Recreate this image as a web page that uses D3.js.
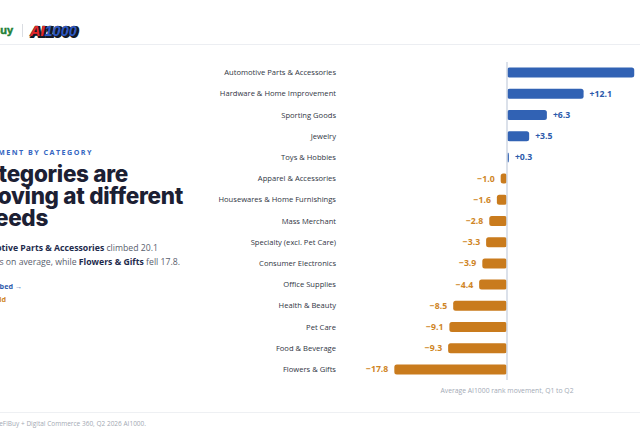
<!DOCTYPE html>
<html>
<head>
<meta charset="utf-8">
<script src="https://cdn.jsdelivr.net/npm/d3@7"></script>
<style>
  html, body { margin: 0; padding: 0; background: #fff; overflow: hidden; }
  svg { display: block; }
</style>
</head>
<body>
<div id="chart"></div>
<script>
// categories and average rank movement, Q1 to Q2
const categories = [
  "Automotive Parts & Accessories",
  "Hardware & Home Improvement",
  "Sporting Goods",
  "Jewelry",
  "Toys & Hobbies",
  "Apparel & Accessories",
  "Housewares & Home Furnishings",
  "Mass Merchant",
  "Specialty (excl. Pet Care)",
  "Consumer Electronics",
  "Office Supplies",
  "Health & Beauty",
  "Pet Care",
  "Food & Beverage",
  "Flowers & Gifts"
];
const movement = [20.1, 12.1, 6.3, 3.5, 0.3, -1.0, -1.6, -2.8, -3.3, -3.9, -4.4, -8.5, -9.1, -9.3, -17.8];

const titleLines = ["Categories are", "moving at different", "speeds"];
const axisCaption = "Average AI1000 rank movement, Q1 to Q2";
const sourceNote = "Source: ReFiBuy + Digital Commerce 360, Q2 2026 AI1000.";

const width = 640, height = 440;
const blue = "#3162b4", orange = "#c97b1d";
const blueText = "#2c5aab", orangeText = "#cf8526";
const font = "'Open Sans', sans-serif";

d3.select("#chart").html("");
let svg = d3.select("#chart")
  .append("svg")
  .attr("width", width)
  .attr("height", height);

/** HEADER */
svg.append("text")
  .attr("x", 13).attr("y", 33.5)
  .attr("text-anchor", "end")
  .attr("font-family", "'Liberation Sans', sans-serif")
  .attr("font-weight", 700)
  .attr("font-size", 11)
  .style("fill", "#1e7f36")
  .style("stroke", "#1e7f36").style("stroke-width", 0.5)
  .text("ReFiBuy");
svg.append("line")
  .attr("x1", 22.5).attr("x2", 22.5)
  .attr("y1", 24).attr("y2", 37)
  .style("stroke", "#dadde2");
let logo = svg.append("g").attr("transform", "translate(30,35.5)");
logo.append("text")
  .attr("x", 1.5).attr("y", 1.5)
  .attr("font-family", "'Liberation Sans', sans-serif")
  .attr("font-weight", 700).attr("font-style", "italic")
  .attr("font-size", 14.5)
  .style("fill", "#151825")
  .style("stroke", "#151825").style("stroke-width", 2)
  .text("AI1000");
let logoText = logo.append("text")
  .attr("font-family", "'Liberation Sans', sans-serif")
  .attr("font-weight", 700).attr("font-style", "italic")
  .attr("font-size", 14.5)
  .style("stroke", "#151825").style("stroke-width", 0.7)
  .style("paint-order", "stroke");
logoText.append("tspan").style("fill", "#e5262a").text("AI");
logoText.append("tspan").style("fill", "#2a58c4").text("1000");

svg.append("line")
  .attr("x1", 0).attr("x2", width)
  .attr("y1", 44.5).attr("y2", 44.5)
  .style("stroke", "#eceef2");

/** LEFT PANEL */
svg.append("text")
  .attr("x", 93).attr("y", 155)
  .attr("text-anchor", "end")
  .attr("font-family", font)
  .attr("font-weight", 700)
  .attr("font-size", 7.2)
  .attr("letter-spacing", 1.45)
  .style("fill", "#3566c2")
  .text("RANK MOVEMENT BY CATEGORY");

let titleEnds = [128, 183, 48];
svg.append("g")
  .selectAll("text")
  .data(titleLines).enter()
  .append("text")
  .attr("x", (d, i) => titleEnds[i])
  .attr("y", (d, i) => 182 + i * 22)
  .attr("text-anchor", "end")
  .attr("font-family", "Inter, sans-serif")
  .attr("font-weight", 800)
  .attr("font-size", 22.5)
  .attr("letter-spacing", -0.3)
  .style("fill", "#1c2033")
  .text((d) => d);

let sub1 = svg.append("text")
  .attr("x", 158).attr("y", 251)
  .attr("text-anchor", "end")
  .attr("font-family", font)
  .attr("font-size", 8.7)
  .style("fill", "#59606d");
sub1.append("tspan").attr("font-weight", 700).style("fill", "#1e2b4d").text("Automotive Parts & Accessories");
sub1.append("tspan").text(" climbed 20.1");
let sub2 = svg.append("text")
  .attr("x", 180).attr("y", 265)
  .attr("text-anchor", "end")
  .attr("font-family", font)
  .attr("font-size", 8.7)
  .style("fill", "#59606d");
sub2.append("tspan").text("positions on average, while ");
sub2.append("tspan").attr("font-weight", 700).style("fill", "#1e2b4d").text("Flowers & Gifts");
sub2.append("tspan").text(" fell 17.8.");

svg.append("text")
  .attr("x", 22).attr("y", 289)
  .attr("text-anchor", "end")
  .attr("font-family", font).attr("font-weight", 700).attr("font-size", 7.2)
  .style("fill", blueText)
  .text("Climbed →");
svg.append("text")
  .attr("x", 6).attr("y", 302)
  .attr("text-anchor", "end")
  .attr("font-family", font).attr("font-weight", 700).attr("font-size", 7.2)
  .style("fill", orangeText)
  .text("Slid");

/** CHART */
let pxPerUnit = 6.33, zeroX = 507;
let x = d3.scaleLinear()
  .domain([-20, 20.1])
  .range([zeroX - 20 * pxPerUnit, zeroX + 20.1 * pxPerUnit]);
let y = d3.scaleBand()
  .domain(categories)
  .range([62, 380]);
let barH = 10;
let data = categories.map((c, i) => ({category: c, value: movement[i]}));

svg.append("g")
  .selectAll("text")
  .data(data).enter()
  .append("text")
  .attr("x", 336)
  .attr("y", (d) => y(d.category) + y.bandwidth() / 2)
  .attr("dy", "0.35em")
  .attr("text-anchor", "end")
  .attr("font-family", font)
  .attr("font-size", 7.6)
  .style("fill", "#30353f")
  .text((d) => d.category);

svg.append("g")
  .selectAll("rect")
  .data(data).enter()
  .append("rect")
  .attr("x", (d) => Math.min(x(0), x(d.value)))
  .attr("y", (d) => y(d.category) + (y.bandwidth() - barH) / 2)
  .attr("width", (d) => Math.abs(x(d.value) - x(0)))
  .attr("height", barH)
  .attr("rx", 2.5)
  .style("fill", (d) => d.value >= 0 ? blue : orange);

svg.append("line")
  .attr("x1", x(0)).attr("x2", x(0))
  .attr("y1", 62).attr("y2", 380)
  .style("stroke", "#d3dae5")
  .style("stroke-width", 1.6);

svg.append("g")
  .selectAll("text")
  .data(data).enter()
  .append("text")
  .attr("x", (d) => d.value >= 0 ? x(d.value) + 6 : x(d.value) - 6)
  .attr("y", (d) => y(d.category) + y.bandwidth() / 2)
  .attr("dy", "0.35em")
  .attr("text-anchor", (d) => d.value >= 0 ? "start" : "end")
  .attr("font-family", font)
  .attr("font-weight", 700)
  .attr("font-size", 8.7)
  .style("fill", (d) => d.value >= 0 ? blueText : orangeText)
  .text((d) => (d.value >= 0 ? "+" : "\u2212") + Math.abs(d.value).toFixed(1));

svg.append("text")
  .attr("x", x(0)).attr("y", 393)
  .attr("text-anchor", "middle")
  .attr("font-family", font)
  .attr("font-size", 6.8)
  .style("fill", "#a3aab6")
  .text(axisCaption);

/** FOOTER */
svg.append("line")
  .attr("x1", 0).attr("x2", width)
  .attr("y1", 412.5).attr("y2", 412.5)
  .style("stroke", "#eef0f3");
svg.append("text")
  .attr("x", 146).attr("y", 426)
  .attr("text-anchor", "end")
  .attr("font-family", font)
  .attr("font-size", 6.5)
  .style("fill", "#a3a9b3")
  .text(sourceNote);
</script>
</body>
</html>
